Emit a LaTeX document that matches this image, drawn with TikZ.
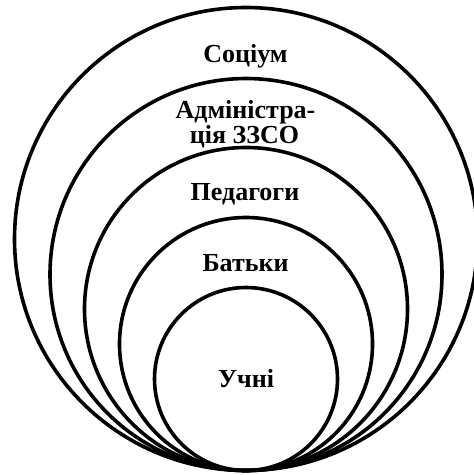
\documentclass[tikz,border=0pt]{standalone}
\usepackage{fontspec}
\setmainfont{Liberation Serif}
\begin{document}
\begin{tikzpicture}[x=1pt,y=-1pt,
  ring/.style={draw=black,line width=3.6pt,circle,inner sep=0pt},
  lbl/.style={font=\fontsize{26}{26}\selectfont\bfseries,inner sep=0pt,anchor=base}]
\useasboundingbox (0,0) rectangle (474,475);
\node[ring,minimum size=463pt] (soc) at (246,239) {};
\node[ring,minimum size=392pt] (adm) at (246,274.5) {};
\node[ring,minimum size=323pt] (ped) at (246,309) {};
\node[ring,minimum size=253pt] (bat) at (246,344) {};
\node[ring,minimum size=183pt] (uch) at (246,379) {};
\node[lbl] (t1) at (245.5,62.5) {Соціум};
\node[lbl] (t2a) at (245.5,118) {Адміністра-};
\node[lbl] (t2b) at (244.5,143) {ція ЗЗСО};
\node[lbl] (t3) at (245,200) {Педагоги};
\node[lbl] (t4) at (245.5,271.5) {Батьки};
\node[lbl] (t5) at (246,387) {Учні};
\end{tikzpicture}
\end{document}
